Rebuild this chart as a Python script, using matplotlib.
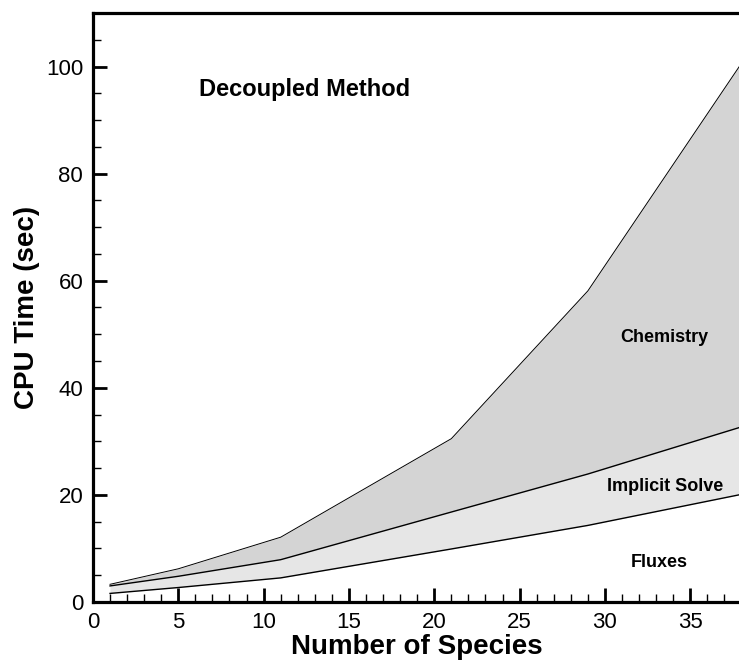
import matplotlib.pyplot as plt
from matplotlib.ticker import MultipleLocator

plt.rcParams["font.family"] = ["Liberation Sans", "DejaVu Sans"]

# CPU time breakdown per number of species (cumulative curves)
species = [1, 5, 11, 21, 29, 38]
fluxes = [1.6, 2.7, 4.5, 9.9, 14.3, 20.1]
implicit_total = [3.0, 4.8, 7.9, 16.8, 23.9, 32.7]
chemistry_total = [3.3, 6.2, 12.1, 30.5, 58.1, 100.6]


def main():
    fig = plt.figure(figsize=(7.39, 6.60), dpi=100)
    ax = fig.add_axes([0.1258, 0.0879, 0.8775, 0.8924])

    ax.fill_between(species, implicit_total, chemistry_total,
                    color="#d4d4d4", lw=0)
    ax.fill_between(species, fluxes, implicit_total,
                    color="#e6e6e6", lw=0)
    ax.plot(species, fluxes, color="black", lw=1.0)
    ax.plot(species, implicit_total, color="black", lw=1.0)
    ax.plot(species, chemistry_total, color="black", lw=0.7)

    ax.set_xlim(0, 38)
    ax.set_ylim(0, 110)
    ax.xaxis.set_major_locator(MultipleLocator(5))
    ax.xaxis.set_minor_locator(MultipleLocator(1))
    ax.yaxis.set_major_locator(MultipleLocator(20))
    ax.yaxis.set_minor_locator(MultipleLocator(5))
    ax.tick_params(which="major", direction="in", length=10, width=2,
                   labelsize=16, top=False, right=False)
    ax.tick_params(which="minor", direction="in", length=6, width=1,
                   top=False, right=False)
    ax.tick_params(axis="x", which="major", pad=7)
    ax.tick_params(axis="y", which="major", pad=7)
    for side in ["left", "bottom", "top"]:
        ax.spines[side].set_linewidth(2.3)
    ax.spines["right"].set_visible(False)

    ax.set_xlabel("Number of Species", fontsize=20, fontweight="bold",
                  labelpad=1)
    ax.set_ylabel("CPU Time (sec)", fontsize=20, fontweight="bold",
                  labelpad=4)

    ax.text(6.2, 95.7, "Decoupled Method", fontsize=17, fontweight="bold",
            ha="left", va="center")
    ax.text(33.5, 49.4, "Chemistry", fontsize=13, fontweight="bold",
            ha="center", va="center")
    ax.text(33.5, 21.6, "Implicit Solve", fontsize=13, fontweight="bold",
            ha="center", va="center")
    ax.text(33.2, 7.3, "Fluxes", fontsize=13, fontweight="bold",
            ha="center", va="center")

    fig.savefig("out.png", dpi=100)


if __name__ == "__main__":
    main()
